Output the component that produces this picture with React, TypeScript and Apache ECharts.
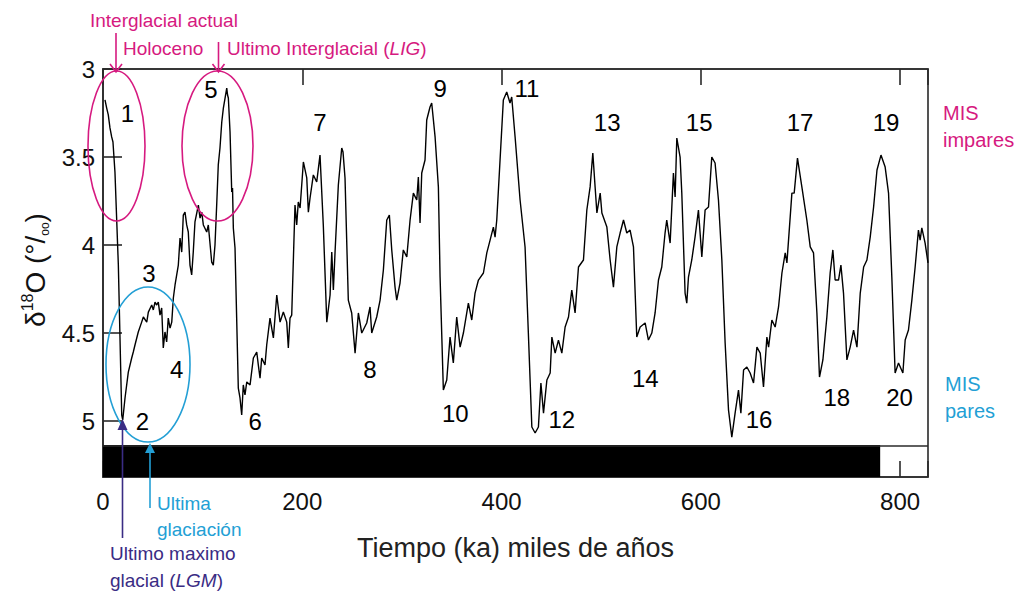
import React, { useEffect, useRef } from "react";
import * as echarts from "echarts";

// δ18O stack: [age (ka), δ18O (‰)]
const samples: [number, number][] = [
  [2.0, 3.176], [3.7, 3.222], [5.3, 3.261], [7.0, 3.335], [8.7, 3.386], [10.0, 3.415],
  [12.0, 3.585], [15.4, 4.114], [18.8, 4.966], [19.8, 4.994], [22.1, 4.869], [25.4, 4.722],
  [28.8, 4.642], [30.4, 4.608], [32.1, 4.568], [35.4, 4.494], [38.8, 4.438], [40.5, 4.409],
  [43.9, 4.438], [45.5, 4.381], [48.9, 4.341], [50.5, 4.369], [52.2, 4.324], [53.9, 4.341],
  [55.5, 4.324], [57.2, 4.398], [58.9, 4.358], [60.5, 4.585], [62.2, 4.494], [63.9, 4.551],
  [65.5, 4.415], [67.3, 4.472], [69.0, 4.438], [70.6, 4.301], [72.3, 4.227], [75.6, 4.114],
  [77.3, 3.96], [79.0, 4.04], [80.6, 3.83], [82.3, 3.813], [84.0, 3.886], [85.6, 3.926],
  [87.3, 4.114], [89.0, 4.17], [90.6, 4.04], [92.3, 3.869], [95.7, 3.773], [97.4, 3.847],
  [99.1, 3.813], [100.7, 3.886], [104.1, 3.926], [105.7, 3.886], [109.1, 4.097], [110.7, 4.114],
  [112.4, 4.0], [114.1, 3.773], [115.7, 3.545], [117.4, 3.449], [119.2, 3.301], [120.8, 3.222],
  [122.5, 3.165], [124.2, 3.108], [125.0, 3.148], [125.8, 3.165], [127.5, 3.358], [129.2, 3.699],
  [130.0, 3.676], [130.8, 3.903], [132.5, 4.017], [135.8, 4.813], [137.5, 4.869], [139.2, 4.966],
  [140.8, 4.795], [142.5, 4.852], [144.3, 4.778], [147.6, 4.795], [150.9, 4.642], [154.3, 4.608],
  [155.9, 4.682], [157.6, 4.756], [159.3, 4.642], [162.6, 4.682], [164.3, 4.568], [167.6, 4.415],
  [171.0, 4.528], [174.4, 4.284], [177.7, 4.438], [181.0, 4.381], [184.4, 4.438], [186.0, 4.585],
  [187.7, 4.415], [189.4, 4.398], [192.7, 3.773], [194.4, 3.886], [196.0, 3.756], [197.8, 3.79],
  [201.1, 3.528], [204.5, 3.619], [206.1, 3.813], [207.8, 3.733], [211.1, 3.602], [214.5, 3.642],
  [217.8, 3.489], [221.1, 3.886], [224.6, 4.438], [227.9, 4.284], [229.6, 4.04], [231.2, 4.256],
  [232.9, 4.04], [236.2, 3.659], [239.6, 3.449], [240.9, 3.472], [242.9, 3.619], [246.2, 4.313],
  [249.6, 4.386], [253.0, 4.614], [256.3, 4.386], [259.7, 4.5], [264.7, 4.443], [268.0, 4.352],
  [269.7, 4.5], [274.7, 4.409], [278.1, 4.313], [281.4, 4.142], [284.8, 3.858], [287.4, 3.83],
  [289.8, 4.028], [293.1, 4.239], [294.8, 4.313], [298.1, 4.216], [301.4, 4.028], [304.9, 4.068],
  [308.2, 3.858], [311.5, 3.705], [314.9, 3.744], [316.5, 3.614], [318.2, 3.875], [319.9, 3.591],
  [323.2, 3.517], [324.9, 3.29], [328.2, 3.216], [329.9, 3.193], [333.3, 3.386], [336.6, 3.67],
  [338.3, 4.182], [341.6, 4.824], [345.0, 4.767], [348.3, 4.523], [351.6, 4.67], [355.0, 4.409],
  [358.4, 4.58], [361.7, 4.5], [366.7, 4.33], [370.1, 4.426], [373.4, 4.273], [376.8, 4.199],
  [381.8, 4.159], [385.2, 4.045], [388.5, 3.972], [391.8, 3.898], [393.5, 3.955], [395.2, 3.858],
  [398.5, 3.517], [401.8, 3.176], [405.2, 3.131], [408.5, 3.193], [410.2, 3.159], [413.6, 3.386],
  [418.6, 3.744], [423.6, 4.011], [426.9, 4.5], [430.4, 5.034], [433.7, 5.068], [437.0, 5.034],
  [439.5, 4.784], [442.1, 4.955], [445.5, 4.767], [448.8, 4.727], [450.5, 4.523], [453.8, 4.614],
  [457.1, 4.54], [460.5, 4.614], [463.8, 4.466], [467.2, 4.409], [470.5, 4.256], [473.8, 4.386],
  [477.2, 4.125], [482.2, 4.085], [485.6, 3.801], [488.9, 3.67], [491.6, 3.477], [493.9, 3.67],
  [495.7, 3.818], [499.0, 3.705], [500.7, 3.818], [505.7, 3.898], [509.0, 4.085], [512.3, 4.239],
  [515.7, 4.011], [519.0, 3.932], [522.4, 3.858], [525.7, 3.932], [529.0, 3.915], [532.4, 4.011],
  [535.7, 4.523], [539.1, 4.466], [544.1, 4.443], [547.4, 4.54], [550.8, 4.5], [554.1, 4.386],
  [557.5, 4.199], [560.8, 4.125], [564.1, 3.932], [565.8, 3.858], [569.2, 3.989], [572.5, 3.591],
  [574.2, 3.727], [575.9, 3.392], [579.2, 3.5], [580.9, 3.705], [584.2, 4.273], [585.9, 4.33],
  [587.6, 4.182], [590.9, 4.085], [594.2, 3.955], [597.6, 3.801], [601.0, 4.068], [604.3, 3.801],
  [607.7, 3.784], [611.0, 3.5], [614.3, 3.534], [617.7, 3.744], [621.1, 4.085], [624.4, 4.557],
  [627.8, 4.938], [631.1, 5.091], [634.4, 4.955], [637.8, 4.824], [640.2, 4.955], [642.9, 4.71],
  [646.2, 4.693], [649.5, 4.727], [652.9, 4.784], [656.3, 4.58], [659.6, 4.614], [662.9, 4.807],
  [666.3, 4.523], [668.0, 4.58], [671.3, 4.426], [674.6, 4.466], [678.0, 4.352], [681.4, 4.159],
  [684.7, 4.045], [686.4, 4.102], [691.4, 3.705], [693.7, 3.705], [697.0, 3.506], [701.4, 3.67],
  [706.4, 3.858], [709.8, 4.011], [713.1, 4.045], [716.5, 4.386], [719.1, 4.75], [722.5, 4.653],
  [726.5, 4.409], [729.8, 4.159], [732.5, 4.028], [734.8, 4.199], [738.2, 4.199], [740.6, 4.114],
  [743.2, 4.273], [746.6, 4.653], [749.9, 4.58], [753.3, 4.483], [756.7, 4.58], [760.0, 4.273],
  [763.4, 4.125], [766.7, 4.085], [770.0, 3.955], [773.4, 3.784], [776.8, 3.574], [780.8, 3.489],
  [785.0, 3.557], [788.4, 3.705], [791.7, 4.182], [795.0, 4.727], [798.4, 4.67], [802.8, 4.727],
  [805.1, 4.54], [808.4, 4.483], [811.8, 4.313], [815.1, 4.125], [818.4, 3.915], [820.1, 3.972],
  [821.8, 3.903], [825.1, 3.989], [828.0, 4.102],
];

// Marine isotope stage numbers and where they are written (age, δ18O)
const stageNames = ["1", "2", "3", "4", "5", "6", "7", "8", "9", "10", "11", "12", "13", "14", "15", "16", "17", "18", "19", "20"];
const stageAges = [24.6, 39.6, 46.2, 74.0, 108.4, 152.6, 217.8, 268.0, 338.3, 353.6, 425.4, 460.5, 506.0, 544.3, 598.3, 658.5, 699.6, 736.4, 785.9, 799.5];
const stageValues = [3.25, 5.0, 4.159, 4.71, 3.114, 5.0, 3.304, 4.705, 3.108, 4.955, 3.108, 4.994, 3.304, 4.756, 3.304, 4.994, 3.304, 4.864, 3.304, 4.864];

// Axes
const xMin = 0;
const xMax = 828;
const xStep = 200;
const yMin = 3;
const yMax = 5.318;
const yStep = 0.5;
const plotBottom = 5.1364; // lower edge of the isotope panel
const brunhesEnd = 780; // end of the black (normal polarity) bar

const FONT = "'Liberation Sans', Arial, Helvetica, sans-serif";
const PINK = "#d61a80";
const BLUE = "#239fd5";
const PURPLE = "#3a2c84";
const AX = "#2a2a2a";

export default function App() {
  const ref = useRef<HTMLDivElement>(null);

  useEffect(() => {
    if (!ref.current) return;
    const chart = echarts.init(ref.current, null, { renderer: "svg" });

    const axisLine = { show: true, lineStyle: { color: AX, width: 1.6 } };
    const stageData = stageNames.map((n, i) => [stageAges[i], stageValues[i], n]);

    const textEl = (x: number, y: number, text: string, fill: string, extra: any = {}) => ({
      type: "text",
      x,
      y,
      z: 100,
      style: {
        text,
        fill,
        fontSize: 19,
        fontFamily: FONT,
        align: "left",
        verticalAlign: "middle",
        ...extra,
      },
    });

    const option: any = {
      animation: false,
      grid: {
        left: 103,
        top: 69,
        right: 103,
        bottom: 117,
        show: true,
        borderColor: AX,
        borderWidth: 1.6,
        backgroundColor: "transparent",
      },
      xAxis: [
        {
          type: "value",
          position: "bottom",
          min: xMin,
          max: xMax,
          interval: xStep,
          axisLine,
          axisTick: { inside: true, length: 16, lineStyle: { color: AX, width: 1.6 } },
          axisLabel: {
            fontSize: 24,
            color: "#111",
            fontFamily: FONT,
            margin: 12,
            formatter: (v: number) => (v % xStep === 0 ? String(v) : ""),
          },
          splitLine: { show: false },
          name: "Tiempo (ka) miles de años",
          nameLocation: "middle",
          nameGap: 57,
          nameTextStyle: { fontSize: 27, color: "#222", fontFamily: FONT },
        },
        {
          type: "value",
          position: "top",
          min: xMin,
          max: xMax,
          interval: xStep,
          axisLine,
          axisTick: { inside: true, length: 16, lineStyle: { color: AX, width: 1.6 } },
          axisLabel: { show: false },
          splitLine: { show: false },
        },
      ],
      yAxis: {
        type: "value",
        inverse: true,
        min: yMin,
        max: yMax,
        interval: yStep,
        axisLine,
        axisTick: { inside: true, length: 19, lineStyle: { color: AX, width: 1.6 } },
        axisLabel: {
          fontSize: 24,
          color: "#111",
          fontFamily: FONT,
          margin: 8,
          formatter: (v: number) =>
            Math.abs(v / yStep - Math.round(v / yStep)) < 1e-6 && v <= 5.0001 ? String(v) : "",
        },
        splitLine: { show: false },
      },
      series: [
        {
          type: "line",
          data: samples,
          showSymbol: false,
          lineStyle: { color: "#000", width: 1.4 },
          z: 3,
          markArea: {
            silent: true,
            itemStyle: { color: "#000", opacity: 1 },
            data: [[{ xAxis: xMin, yAxis: plotBottom }, { xAxis: brunhesEnd, yAxis: yMax }]],
          },
          markLine: {
            silent: true,
            symbol: ["none", "none"],
            label: { show: false },
            lineStyle: { color: AX, width: 1.6, type: "solid" },
            data: [{ yAxis: plotBottom }],
          },
        },
        {
          type: "scatter",
          data: stageData,
          symbolSize: 1,
          itemStyle: { color: "#fff", opacity: 0 },
          z: 4,
          label: {
            show: true,
            position: "inside",
            formatter: (p: any) => p.value[2],
            fontSize: 24,
            color: "#000",
            opacity: 1,
            textBorderWidth: 0,
            fontFamily: FONT,
          },
        },
      ],
      graphic: [
        // y-axis title
        {
          type: "text",
          x: 35,
          y: 270,
          rotation: Math.PI / 2,
          z: 100,
          style: {
            text: "{a|δ}{s|18}{a|O (°/}{b|oo}{a|)}",
            fill: "#111",
            align: "center",
            verticalAlign: "middle",
            fontFamily: FONT,
            rich: {
              a: { fontSize: 28, fontFamily: FONT, fill: "#111", lineHeight: 32, verticalAlign: "middle" },
              s: { fontSize: 16, fontFamily: FONT, fill: "#111", lineHeight: 32, verticalAlign: "top" },
              b: { fontSize: 12, fontFamily: FONT, fill: "#111", lineHeight: 30, verticalAlign: "bottom" },
            },
          },
        },
        // pink annotations
        textEl(90, 20, "Interglacial actual", PINK),
        textEl(123, 48, "Holoceno", PINK),
        {
          type: "text",
          x: 227,
          y: 48,
          z: 100,
          style: {
            text: "{n|Ultimo Interglacial (}{i|LIG}{n|)}",
            fill: PINK,
            fontSize: 19,
            fontFamily: FONT,
            align: "left",
            verticalAlign: "middle",
            rich: {
              n: { fontSize: 19, fontFamily: FONT, fill: PINK },
              i: { fontSize: 19, fontFamily: FONT, fill: PINK, fontStyle: "italic" },
            },
          },
        },
        { type: "line", z: 100, shape: { x1: 116, y1: 33, x2: 116, y2: 72 }, style: { stroke: PINK, lineWidth: 1.6 } },
        { type: "polyline", z: 100, shape: { points: [[110, 64], [116, 72], [122, 64]] }, style: { stroke: PINK, lineWidth: 1.6, fill: "none" } },
        { type: "line", z: 100, shape: { x1: 218.5, y1: 42, x2: 218.5, y2: 72 }, style: { stroke: PINK, lineWidth: 1.6 } },
        { type: "polyline", z: 100, shape: { points: [[212.5, 64], [218.5, 72], [224.5, 64]] }, style: { stroke: PINK, lineWidth: 1.6, fill: "none" } },
        { type: "ellipse", z: 100, shape: { cx: 116.5, cy: 146, rx: 28.5, ry: 75 }, style: { stroke: PINK, lineWidth: 1.6, fill: "none" } },
        { type: "ellipse", z: 100, shape: { cx: 217.5, cy: 146, rx: 35.5, ry: 75 }, style: { stroke: PINK, lineWidth: 1.6, fill: "none" } },
        // blue annotations
        { type: "ellipse", z: 100, shape: { cx: 148, cy: 364.5, rx: 42, ry: 77.5 }, style: { stroke: BLUE, lineWidth: 1.6, fill: "none" } },
        { type: "line", z: 100, shape: { x1: 150, y1: 450, x2: 150, y2: 508 }, style: { stroke: BLUE, lineWidth: 1.6 } },
        { type: "polygon", z: 100, shape: { points: [[150, 443], [145, 453], [155, 453]] }, style: { fill: BLUE } },
        textEl(157, 503, "Ultima", BLUE),
        textEl(157, 529, "glaciación", BLUE),
        // purple annotations (LGM)
        { type: "line", z: 100, shape: { x1: 122.5, y1: 428, x2: 122.5, y2: 538 }, style: { stroke: PURPLE, lineWidth: 1.6 } },
        { type: "polygon", z: 100, shape: { points: [[122.5, 419], [117.5, 430], [127.5, 430]] }, style: { fill: PURPLE } },
        textEl(110, 553, "Ultimo maximo", PURPLE),
        {
          type: "text",
          x: 110,
          y: 580,
          z: 100,
          style: {
            text: "{n|glacial (}{i|LGM}{n|)}",
            fill: PURPLE,
            fontSize: 19,
            fontFamily: FONT,
            align: "left",
            verticalAlign: "middle",
            rich: {
              n: { fontSize: 19, fontFamily: FONT, fill: PURPLE },
              i: { fontSize: 19, fontFamily: FONT, fill: PURPLE, fontStyle: "italic" },
            },
          },
        },
        // right-side legends
        textEl(943, 113, "MIS", PINK, { fontSize: 20 }),
        textEl(943, 140, "impares", PINK, { fontSize: 20 }),
        textEl(945, 384, "MIS", BLUE, { fontSize: 20 }),
        textEl(945, 411, "pares", BLUE, { fontSize: 20 }),
      ],
    };

    chart.setOption(option);
    return () => chart.dispose();
  }, []);

  return (
    <div
      ref={ref}
      style={{ position: "fixed", left: 0, top: 0, width: 1031, height: 594, background: "#fff" }}
    />
  );
}
